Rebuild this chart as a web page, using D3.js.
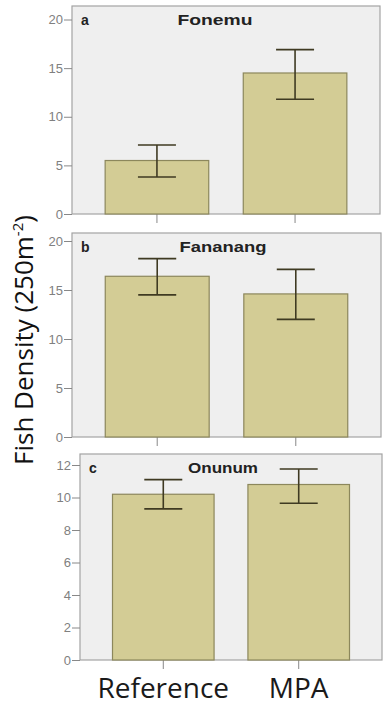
<!DOCTYPE html>
<html lang="en">

<head>
  <meta charset="UTF-8">
  <script src="https://d3js.org/d3.v7.min.js"></script>
  <title>Fish density</title>
  <style>
    body {
      margin: 0;
      background: white;
      font-family: 'Liberation Sans', Arial, sans-serif;
    }

    .tick text {
      fill: #808080;
      font-size: 13px;
    }

    .tick line {
      stroke: #888;
    }

    .domain {
      display: none;
    }
  </style>
</head>

<body>
  <svg id='chart' width='387' height='707'></svg>

  <script>
    const groups = ['Reference', 'MPA'];

    // site panels: mean and error bar ends per group
    const sites = ['Fonemu', 'Fananang', 'Onunum'];
    const letters = ['a', 'b', 'c'];
    const means = [[5.5, 14.5], [16.4, 14.6], [10.2, 10.8]];
    const lowers = [[3.8, 11.8], [14.5, 12.0], [9.3, 9.65]];
    const uppers = [[7.1, 16.9], [18.2, 17.1], [11.1, 11.75]];
    const yMax = [20, 20, 12];
    const yTicks = [[0, 5, 10, 15, 20], [0, 5, 10, 15, 20], [0, 2, 4, 6, 8, 10, 12]];

    const svg = d3.select("#chart");

    const boxes = [
      { left: 72, right: 380, top: 6, zero: 214, maxY: 19.5 },
      { left: 72, right: 381, top: 233, zero: 437, maxY: 241 },
      { left: 80, right: 382, top: 454, zero: 660, maxY: 465 }
    ];
    const titleX = [215, 223, 223];
    const titleW = [75, 87, 70];

    sites.forEach((site, p) => {
      const b = boxes[p];
      const g = svg.append('g');

      const x = d3.scaleBand()
        .domain(groups)
        .range([b.left, b.right])
        .paddingInner(0.25)
        .paddingOuter(0.24);

      const y = d3.scaleLinear()
        .domain([0, yMax[p]])
        .range([b.zero, b.maxY]);

      g.append('rect')
        .attr('x', b.left)
        .attr('y', b.top)
        .attr('width', b.right - b.left)
        .attr('height', b.zero - b.top)
        .style('fill', '#efefef')
        .style('stroke', '#a3a3a3')
        .style('stroke-width', 1.2);

      g.append('g')
        .attr('transform', 'translate(' + b.left + ',0)')
        .call(d3.axisLeft(y).tickValues(yTicks[p]).tickSize(8).tickPadding(1))
        .selectAll('text')
        .style('font-family', "'Liberation Sans', Arial, sans-serif");

      g.append('g')
        .attr('transform', 'translate(0,' + b.zero + ')')
        .call(d3.axisBottom(x).tickSize(9).tickFormat(''));

      g.selectAll('rect.bar').data(groups)
        .join('rect')
        .attr('class', 'bar')
        .attr('x', d => x(d))
        .attr('width', x.bandwidth())
        .attr('y', (d, i) => y(means[p][i]))
        .attr('height', (d, i) => b.zero - y(means[p][i]))
        .style('fill', '#d3cc95')
        .style('stroke', '#8c875c')
        .style('stroke-width', 1.2);

      const cap = 19;
      groups.forEach((d, i) => {
        const cx = x(d) + x.bandwidth() / 2;
        const eb = g.append('g').style('stroke', '#3f3a22').style('stroke-width', 1.6);
        eb.append('line')
          .attr('x1', cx).attr('x2', cx)
          .attr('y1', y(uppers[p][i])).attr('y2', y(lowers[p][i]));
        eb.append('line')
          .attr('x1', cx - cap).attr('x2', cx + cap)
          .attr('y1', y(uppers[p][i])).attr('y2', y(uppers[p][i]));
        eb.append('line')
          .attr('x1', cx - cap).attr('x2', cx + cap)
          .attr('y1', y(lowers[p][i])).attr('y2', y(lowers[p][i]));
      });

      g.append('text')
        .text(letters[p])
        .attr('x', b.left + 9)
        .attr('y', b.top + 19)
        .style('font-weight', 'bold')
        .style('font-size', '14px')
        .style('fill', '#222');

      g.append('text')
        .text(site)
        .attr('x', titleX[p])
        .attr('y', b.top + 19)
        .attr('text-anchor', 'middle')
        .attr('textLength', titleW[p])
        .attr('lengthAdjust', 'spacingAndGlyphs')
        .style('font-weight', 'bold')
        .style('font-size', '14px')
        .style('fill', '#222');

      // category labels only under the last panel
      if (p == sites.length - 1) {
        groups.forEach(d => {
          g.append('text')
            .text(d)
            .attr('x', x(d) + x.bandwidth() / 2)
            .attr('y', 698)
            .attr('text-anchor', 'middle')
            .style('font-family', "'Open Sans', sans-serif")
            .style('font-size', '28px')
            .style('fill', '#1a1a1a');
        });
      }
    });

    // shared y axis title
    const ylab = svg.append('text')
      .attr('transform', 'translate(33,340) rotate(-90)')
      .attr('text-anchor', 'middle')
      .style('font-family', "'Open Sans', sans-serif")
      .style('font-size', '26px')
      .style('fill', '#111');
    ylab.append('tspan').text('Fish Density (250m');
    ylab.append('tspan').text('-2').attr('dy', -10).style('font-size', '15px');
    ylab.append('tspan').text(')').attr('dy', 10);
  </script>
</body>

</html>
